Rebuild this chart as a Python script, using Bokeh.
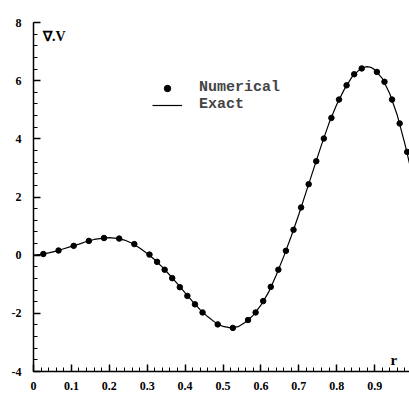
from bokeh.plotting import figure
from bokeh.models import FixedTicker, Legend, LegendItem, Range1d
from bokeh.core.properties import value
from bokeh.embed import file_html
from bokeh.resources import INLINE

# Exact solution
r_exact = [0.00, 0.02, 0.04, 0.06, 0.08, 0.10, 0.12, 0.14, 0.16, 0.18,
           0.20, 0.22, 0.24, 0.26, 0.28, 0.30, 0.32, 0.34, 0.36, 0.38,
           0.40, 0.42, 0.44, 0.46, 0.48, 0.50, 0.52, 0.54, 0.56, 0.58,
           0.60, 0.62, 0.64, 0.66, 0.68, 0.70, 0.72, 0.74, 0.76, 0.78,
           0.80, 0.82, 0.84, 0.86, 0.87, 0.88, 0.89, 0.90, 0.92, 0.94, 0.96, 0.98, 1.00]
div_exact = [0.00, 0.03, 0.08, 0.14, 0.22, 0.30, 0.38, 0.47, 0.54, 0.58,
             0.60, 0.58, 0.52, 0.41, 0.25, 0.06, -0.16, -0.41, -0.69, -0.99,
             -1.30, -1.60, -1.88, -2.12, -2.32, -2.45, -2.50, -2.46, -2.30, -2.06,
             -1.72, -1.28, -0.70, -0.05, 0.65, 1.40, 2.20, 3.00, 3.80, 4.55,
             5.18, 5.70, 6.12, 6.38, 6.45, 6.48, 6.46, 6.38, 6.08, 5.55, 4.80, 3.82, 2.70]

# Numerical solution
r_num = [0.026, 0.066, 0.106, 0.146, 0.186, 0.226, 0.266, 0.306, 0.326, 0.346,
         0.366, 0.386, 0.406, 0.426, 0.446, 0.486, 0.526, 0.566, 0.586, 0.606,
         0.626, 0.646, 0.666, 0.686, 0.706, 0.726, 0.746, 0.766, 0.786, 0.806,
         0.826, 0.846, 0.866, 0.906, 0.926, 0.946, 0.966, 0.986]
div_num = [0.04, 0.16, 0.32, 0.49, 0.59, 0.57, 0.38, 0.02, -0.23, -0.50,
           -0.79, -1.10, -1.40, -1.69, -1.97, -2.38, -2.50, -2.23, -1.97, -1.58,
           -1.09, -0.50, 0.15, 0.87, 1.64, 2.44, 3.23, 4.01, 4.72, 5.35,
           5.84, 6.22, 6.42, 6.30, 5.96, 5.35, 4.53, 3.55]

x_ticks = [0.0, 0.1, 0.2, 0.3, 0.4, 0.5, 0.6, 0.7, 0.8, 0.9, 1.0]
x_tick_labels = ["0", "0.1", "0.2", "0.3", "0.4", "0.5", "0.6", "0.7", "0.8", "0.9", "1"]
x_minor = [round(i * 0.02, 2) for i in range(51)]
y_ticks = [-4, -2, 0, 2, 4, 6, 8]
y_tick_labels = ["-4", "-2", "0", "2", "4", "6", "8"]
y_minor = [round(-4 + i * 0.4, 1) for i in range(31)]

p = figure(width=409, height=401, output_backend="svg", toolbar_location=None,
           x_range=Range1d(0, 0.992), y_range=Range1d(-4, 8),
           min_border_left=33, min_border_right=0, min_border_top=22,
           min_border_bottom=30)
p.outline_line_alpha = 0
p.grid.visible = False

line_r = p.line(r_exact, div_exact, line_color="black", line_width=1.2)
dot_r = p.scatter(r_num, div_num, size=5.5, marker="circle",
                  fill_color="black", line_color="black")

p.xaxis.ticker = FixedTicker(ticks=x_ticks, minor_ticks=x_minor)
p.yaxis.ticker = FixedTicker(ticks=y_ticks, minor_ticks=y_minor)
p.xaxis.major_label_overrides = dict(zip(x_ticks, x_tick_labels))
p.yaxis.major_label_overrides = dict(zip(y_ticks, y_tick_labels))

for ax in (p.xaxis, p.yaxis):
    ax.major_tick_in = 7
    ax.major_tick_out = 0
    ax.minor_tick_in = 4
    ax.minor_tick_out = 0
    ax.major_tick_line_width = 1.5
    ax.minor_tick_line_width = 1
    ax.axis_line_width = 1.5
    ax.major_label_text_font_style = "bold"
    ax.major_label_text_font_size = "12px"
    ax.major_label_text_color = "black"
p.xaxis.major_label_text_font = "Liberation Serif"
p.yaxis.major_label_text_font = "serif"
p.xaxis.major_label_standoff = 10
p.yaxis.major_label_standoff = 12

# axis titles as text glyphs inside the frame
p.text(x=[0.025], y=[7.53], text=["\u2207.V"], text_font=value("serif"),
       text_font_style="bold", text_font_size="14px", text_baseline="middle",
       text_color="black")
p.text(x=[0.942], y=[-3.6], text=["r"], text_font=value("serif"),
       text_font_style="bold", text_font_size="15px", text_baseline="middle",
       text_color="black")

legend = Legend(items=[LegendItem(label="Numerical", renderers=[dot_r]),
                       LegendItem(label="Exact", renderers=[line_r])],
                location=(119, 258), orientation="vertical")
legend.border_line_color = None
legend.background_fill_alpha = 0
legend.padding = 0
legend.margin = 0
legend.spacing = 0
legend.glyph_width = 30
legend.glyph_height = 16
legend.label_height = 16
legend.label_standoff = 17
legend.label_text_font = "Liberation Mono"
legend.label_text_font_style = "bold"
legend.label_text_font_size = "15px"
legend.label_text_baseline = "middle"
p.add_layout(legend)

open("out.html", "w").write(file_html(p, INLINE))
